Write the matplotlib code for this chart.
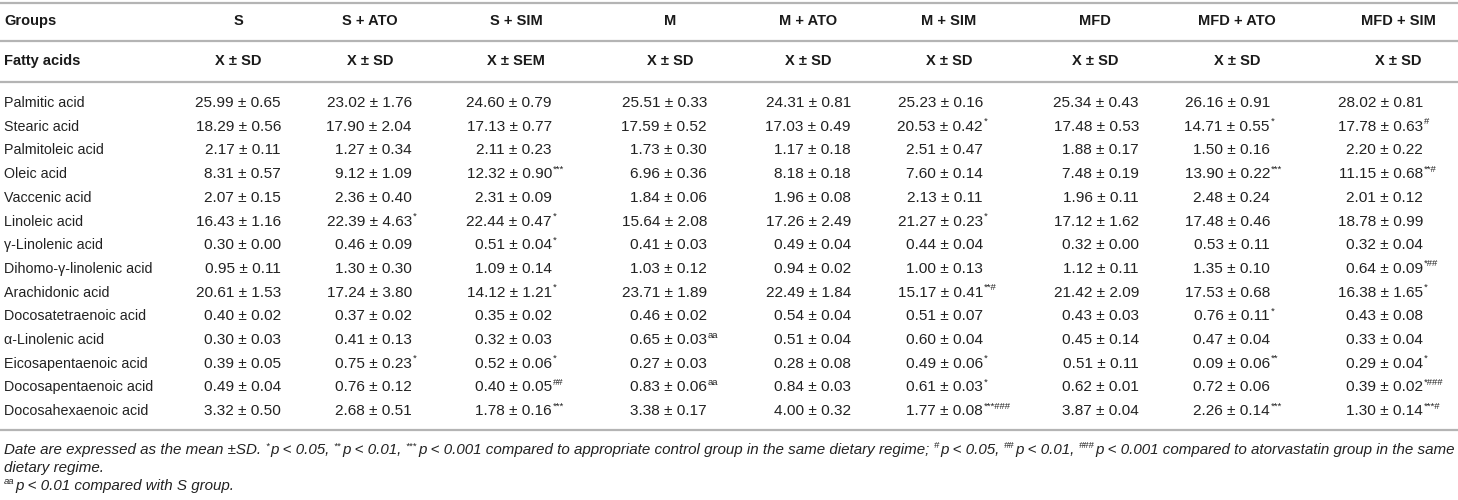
import matplotlib
matplotlib.use("Agg")
import matplotlib.pyplot as plt

# ---------------- data ----------------
groups = ["S", "S + ATO", "S + SIM", "M", "M + ATO", "M + SIM", "MFD", "MFD + ATO", "MFD + SIM"]
stat_labels = ["X ± SD", "X ± SD", "X ± SEM", "X ± SD", "X ± SD", "X ± SD", "X ± SD", "X ± SD", "X ± SD"]
fatty_acids = ["Palmitic acid", "Stearic acid", "Palmitoleic acid", "Oleic acid", "Vaccenic acid",
               "Linoleic acid", "γ-Linolenic acid", "Dihomo-γ-linolenic acid", "Arachidonic acid",
               "Docosatetraenoic acid", "α-Linolenic acid", "Eicosapentaenoic acid",
               "Docosapentaenoic acid", "Docosahexaenoic acid"]

mean_S = [25.99, 18.29, 2.17, 8.31, 2.07, 16.43, 0.30, 0.95, 20.61, 0.40, 0.30, 0.39, 0.49, 3.32]
sd_S = [0.65, 0.56, 0.11, 0.57, 0.15, 1.16, 0.00, 0.11, 1.53, 0.02, 0.03, 0.05, 0.04, 0.50]
sig_S = [""] * 14

mean_S_ATO = [23.02, 17.90, 1.27, 9.12, 2.36, 22.39, 0.46, 1.30, 17.24, 0.37, 0.41, 0.75, 0.76, 2.68]
sd_S_ATO = [1.76, 2.04, 0.34, 1.09, 0.40, 4.63, 0.09, 0.30, 3.80, 0.02, 0.13, 0.23, 0.12, 0.51]
sig_S_ATO = ["", "", "", "", "", "*", "", "", "", "", "", "*", "", ""]

mean_S_SIM = [24.60, 17.13, 2.11, 12.32, 2.31, 22.44, 0.51, 1.09, 14.12, 0.35, 0.32, 0.52, 0.40, 1.78]
sd_S_SIM = [0.79, 0.77, 0.23, 0.90, 0.09, 0.47, 0.04, 0.14, 1.21, 0.02, 0.03, 0.06, 0.05, 0.16]
sig_S_SIM = ["", "", "", "***", "", "*", "*", "", "*", "", "", "*", "##", "***"]

mean_M = [25.51, 17.59, 1.73, 6.96, 1.84, 15.64, 0.41, 1.03, 23.71, 0.46, 0.65, 0.27, 0.83, 3.38]
sd_M = [0.33, 0.52, 0.30, 0.36, 0.06, 2.08, 0.03, 0.12, 1.89, 0.02, 0.03, 0.03, 0.06, 0.17]
sig_M = ["", "", "", "", "", "", "", "", "", "", "aa", "", "aa", ""]

mean_M_ATO = [24.31, 17.03, 1.17, 8.18, 1.96, 17.26, 0.49, 0.94, 22.49, 0.54, 0.51, 0.28, 0.84, 4.00]
sd_M_ATO = [0.81, 0.49, 0.18, 0.18, 0.08, 2.49, 0.04, 0.02, 1.84, 0.04, 0.04, 0.08, 0.03, 0.32]
sig_M_ATO = [""] * 14

mean_M_SIM = [25.23, 20.53, 2.51, 7.60, 2.13, 21.27, 0.44, 1.00, 15.17, 0.51, 0.60, 0.49, 0.61, 1.77]
sd_M_SIM = [0.16, 0.42, 0.47, 0.14, 0.11, 0.23, 0.04, 0.13, 0.41, 0.07, 0.04, 0.06, 0.03, 0.08]
sig_M_SIM = ["", "*", "", "", "", "*", "", "", "**#", "", "", "*", "*", "***###"]

mean_MFD = [25.34, 17.48, 1.88, 7.48, 1.96, 17.12, 0.32, 1.12, 21.42, 0.43, 0.45, 0.51, 0.62, 3.87]
sd_MFD = [0.43, 0.53, 0.17, 0.19, 0.11, 1.62, 0.00, 0.11, 2.09, 0.03, 0.14, 0.11, 0.01, 0.04]
sig_MFD = [""] * 14

mean_MFD_ATO = [26.16, 14.71, 1.50, 13.90, 2.48, 17.48, 0.53, 1.35, 17.53, 0.76, 0.47, 0.09, 0.72, 2.26]
sd_MFD_ATO = [0.91, 0.55, 0.16, 0.22, 0.24, 0.46, 0.11, 0.10, 0.68, 0.11, 0.04, 0.06, 0.06, 0.14]
sig_MFD_ATO = ["", "*", "", "***", "", "", "", "", "", "*", "", "**", "", "***"]

mean_MFD_SIM = [28.02, 17.78, 2.20, 11.15, 2.01, 18.78, 0.32, 0.64, 16.38, 0.43, 0.33, 0.29, 0.39, 1.30]
sd_MFD_SIM = [0.81, 0.63, 0.22, 0.68, 0.12, 0.99, 0.04, 0.09, 1.65, 0.08, 0.04, 0.04, 0.02, 0.14]
sig_MFD_SIM = ["", "#", "", "**#", "", "", "", "*##", "*", "", "", "*", "*###", "***#"]

all_means = [mean_S, mean_S_ATO, mean_S_SIM, mean_M, mean_M_ATO, mean_M_SIM, mean_MFD, mean_MFD_ATO, mean_MFD_SIM]
all_sds = [sd_S, sd_S_ATO, sd_S_SIM, sd_M, sd_M_ATO, sd_M_SIM, sd_MFD, sd_MFD_ATO, sd_MFD_SIM]
all_sigs = [sig_S, sig_S_ATO, sig_S_SIM, sig_M, sig_M_ATO, sig_M_SIM, sig_MFD, sig_MFD_ATO, sig_MFD_SIM]

footnote_lines = [
    [("Date are expressed as the mean ±SD. ", False), ("*", True), ("p < 0.05, ", False), ("**", True),
     ("p < 0.01, ", False), ("***", True),
     ("p < 0.001 compared to appropriate control group in the same dietary regime; ", False),
     ("#", True), ("p < 0.05, ", False), ("##", True), ("p < 0.01, ", False), ("###", True),
     ("p < 0.001 compared to atorvastatin group in the same", False)],
    [("dietary regime.", False)],
    [("aa", True), ("p < 0.01 compared with S group.", False)],
]

# ---------------- layout ----------------
W, H = 1458, 500
FONT = "Liberation Sans"
TXT = "#222222"
LINE = "#b4b4b4"

fig = plt.figure(figsize=(W / 100, H / 100), dpi=100)
ax = fig.add_axes([0, 0, 1, 1])
ax.set_xlim(0, W)
ax.set_ylim(H, 0)
ax.axis("off")

header_centers = [238, 370, 516, 670, 808, 949, 1095, 1237, 1398]
value_right = [281, 412, 552, 707, 851, 983, 1139, 1270, 1423]
y_groups, y_stats = 21, 61
row_y0, row_dy = 103, 23.7
label_x = 4

for yl in [2.5, 41, 81.5, 430]:
    ax.plot([0, W], [yl, yl], color=LINE, lw=1.6, solid_capstyle="butt")

hdr = dict(fontfamily=FONT, fontsize=10.5, fontweight="bold", color="#1a1a1a", va="center")
ax.text(label_x, y_groups, "Groups", ha="left", **hdr)
ax.text(label_x, y_stats, "Fatty acids", ha="left", **hdr)
for xc, g, s in zip(header_centers, groups, stat_labels):
    ax.text(xc, y_groups, g, ha="center", **hdr)
    ax.text(xc, y_stats, s, ha="center", **hdr)

for i, fa in enumerate(fatty_acids):
    y = row_y0 + i * row_dy
    ax.text(label_x, y, fa, ha="left", va="center", fontfamily=FONT, fontsize=10.3, color=TXT)
    for xr, m, sd, sg in zip(value_right, all_means, all_sds, all_sigs):
        ax.text(xr, y, f"{m[i]:.2f} ± {sd[i]:.2f}", ha="right", va="center",
                fontfamily=FONT, fontsize=11.1, color=TXT)
        if sg[i]:
            ax.text(xr + 1, y - 5, sg[i], ha="left", va="center",
                    fontfamily=FONT, fontsize=6.8, color=TXT)

fig.canvas.draw()
renderer = fig.canvas.get_renderer()
foot_y = [450, 468, 486]
for line, fy in zip(footnote_lines, foot_y):
    x = label_x
    for seg, sup in line:
        if sup:
            t = ax.text(x, fy - 4, seg, ha="left", va="center", fontfamily=FONT,
                        fontsize=6.8, style="italic", color=TXT)
        else:
            t = ax.text(x, fy, seg, ha="left", va="center", fontfamily=FONT,
                        fontsize=10.9, style="italic", color=TXT)
        bb = t.get_window_extent(renderer=renderer)
        x += bb.width + (1 if sup else 0)

fig.savefig("out.png", dpi=100, facecolor="white")
